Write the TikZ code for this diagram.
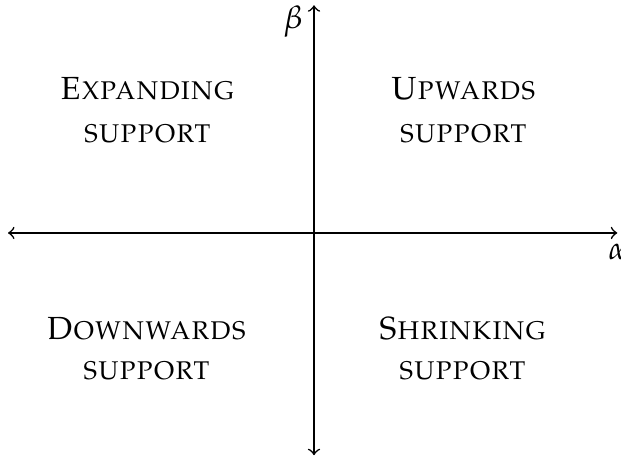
\documentclass[tikz,border=0pt]{standalone}
\usepackage[T1]{fontenc}
\usepackage{mathpazo}
\usepackage{tikz}
\usetikzlibrary{positioning}

\begin{document}
\begin{tikzpicture}[
        region/.style={align=center, font=\scshape},
        axis/.style={<->, line width=0.5pt}
    ]
        \useasboundingbox (-3.448,-2.503) rectangle (3.371,2.558);

        % Axis ends
        \coordinate (west) at (-3.36,0);
        \coordinate (east) at (3.33,0);
        \coordinate (north) at (0,2.50);
        \coordinate (south) at (0,-2.44);

        % Nodes
        \node[region] (expanding) at (-1.83,1.35) {Expanding\\[1.6pt]support};
        \node[region] (upwards) at (1.64,1.35) {Upwards\\[1.6pt]support};
        \node[region] (downwards) at (-1.84,-1.27) {Downwards\\[0.5pt]support};
        \node[region] (shrinking) at (1.63,-1.27) {Shrinking\\[0.5pt]support};

        % Arrows
        \draw[axis] (west) -- (east);
        \draw[axis] (south) -- (north);
        \node[below=0pt of east] (alpha) {$\alpha$};
        \node[left=0pt of north, yshift=-5pt] (beta) {$\beta$};
    \end{tikzpicture}
\end{document}
